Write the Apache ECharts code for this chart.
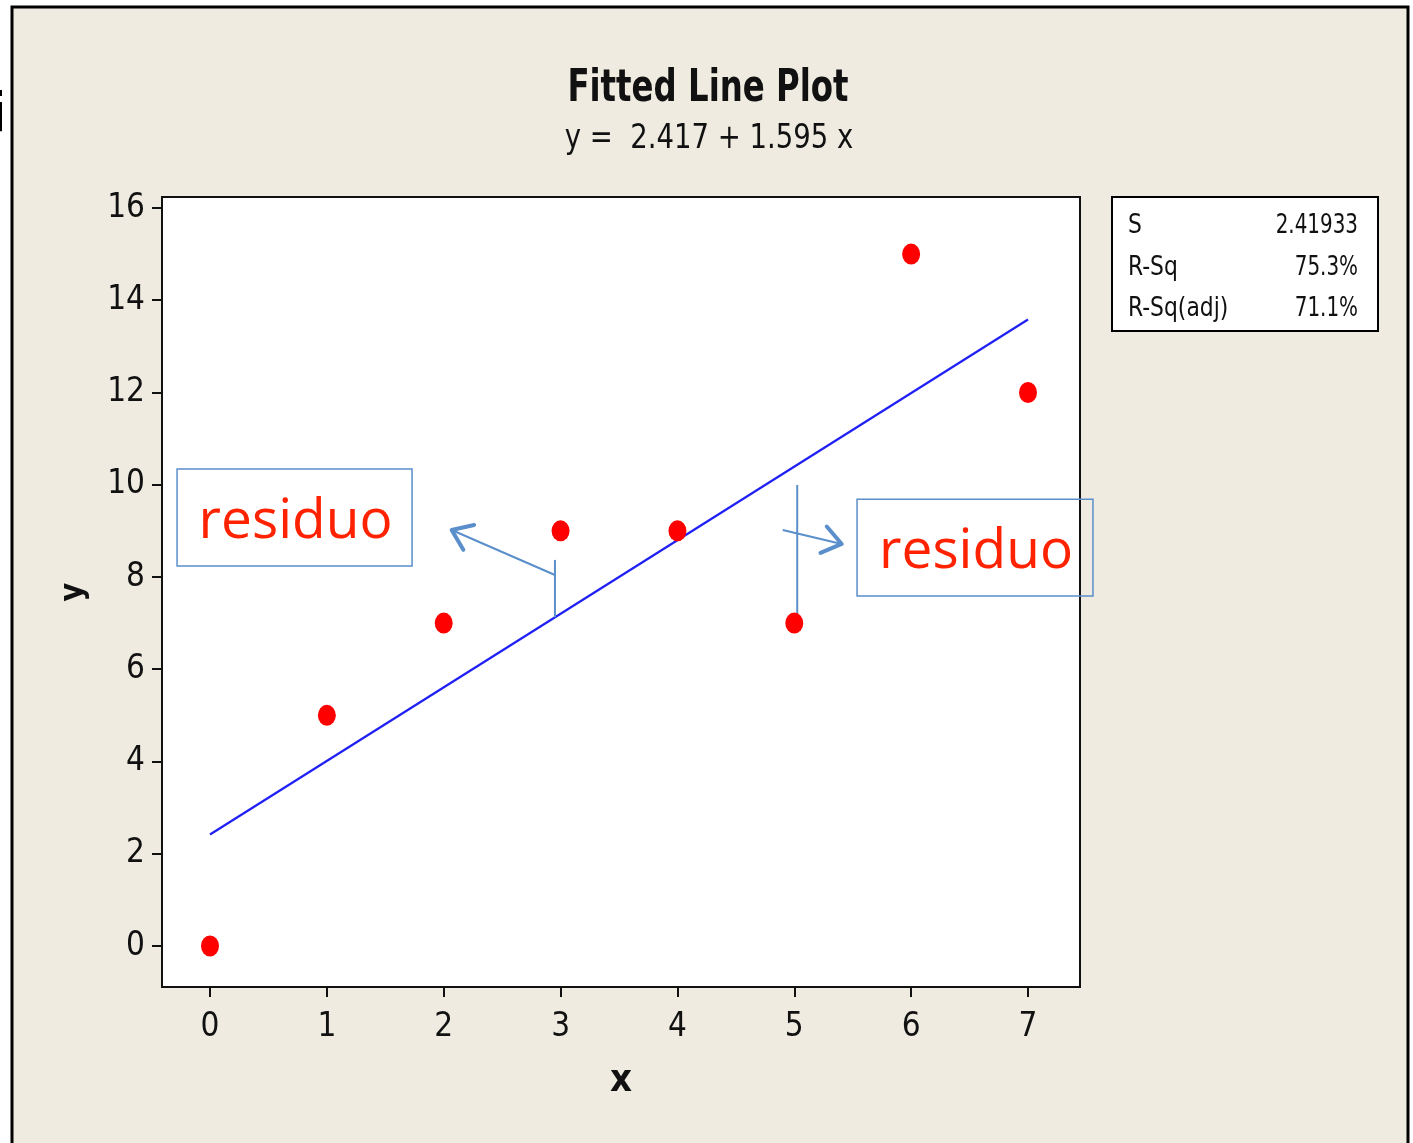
<!DOCTYPE html>
<html>
<head>
<meta charset="utf-8">
<script src="https://cdn.jsdelivr.net/npm/echarts@6/dist/echarts.min.js"></script>
<style>
html,body{margin:0;padding:0;background:#ffffff;}
#chart{width:1413px;height:1143px;}
</style>
</head>
<body>
<div id="chart"></div>
<script>
// ---- data ----
const xValues = [0, 1, 2, 3, 4, 5, 6, 7];
const yValues = [0, 5, 7, 9, 9, 7, 15, 12];
const fitX = [0, 7];
const fitY = [2.417, 13.582];
const xTickValues = [0, 1, 2, 3, 4, 5, 6, 7];
const yTickValues = [0, 2, 4, 6, 8, 10, 12, 14, 16];
const titleText = 'Fitted Line Plot';
const subtitleText = 'y =  2.417 + 1.595 x';
const statLabels = ['S', 'R-Sq', 'R-Sq(adj)'];
const statValues = ['2.41933', '75.3%', '71.1%'];
// annotation anchors in data units
const residualSegs = [[2.952, 7.126, 2.952, 8.37], [5.025, 7.003, 5.025, 9.995]];
const arrowSegs = [[2.952, 8.043, 2.068, 9.019], [4.901, 9.019, 5.406, 8.716]];
const noteBoxes = [[-0.282, 10.342, 1.729, 8.239], [5.537, 9.685, 7.556, 7.588]];
const noteText = 'residuo';

const FONT = '"DejaVu Sans Condensed", "DejaVu Sans", sans-serif';
const annColor = '#5A8FCB';

const chart = echarts.init(document.getElementById('chart'), null, {renderer: 'canvas'});

const scatterData = xValues.map((x, i) => [x, yValues[i]]);
const fitData = fitX.map((x, i) => [x, fitY[i]]);

const option = {
  animation: false,
  backgroundColor: '#ffffff',
  graphic: [
    {type: 'rect', z: -10, silent: true,
     shape: {x: 12, y: 7, width: 1396, height: 1150},
     style: {fill: '#EFEBE1', stroke: '#000', lineWidth: 3}},
    {type: 'text', z: 10, x: 7, y: 117,
     style: {text: 'i', font: '53px "DejaVu Sans", sans-serif', fill: '#000', align: 'right', verticalAlign: 'middle'}},
    {type: 'text', z: 10, x: 708, y: 89, scaleX: 0.8,
     style: {text: titleText, font: 'bold 45px ' + FONT, fill: '#111', align: 'center', verticalAlign: 'middle'}},
    {type: 'text', z: 10, x: 709, y: 139, scaleX: 0.9,
     style: {text: subtitleText, font: '34px ' + FONT, fill: '#111', align: 'center', verticalAlign: 'middle'}},
    {type: 'group', x: 1112, y: 197, children: [
      {type: 'rect', shape: {x: 0, y: 0, width: 266, height: 134},
       style: {fill: '#fff', stroke: '#000', lineWidth: 2}},
      ...statLabels.map((t, i) => ({type: 'text', x: 16, y: 29 + i * 41.5, scaleX: 0.9,
        style: {text: t, font: '27px ' + FONT, fill: '#111', verticalAlign: 'middle', align: 'left'}})),
      ...statValues.map((t, i) => ({type: 'text', x: 246, y: 29 + i * 41.5, scaleX: 0.82,
        style: {text: t, font: '27px ' + FONT, fill: '#111', verticalAlign: 'middle', align: 'right'}}))
    ]}
  ],
  grid: {
    left: 162, top: 197, width: 918, height: 790,
    show: true, backgroundColor: '#ffffff', borderColor: '#111', borderWidth: 2,
    containLabel: false
  },
  xAxis: {
    type: 'value', min: -0.4108, max: 7.445,
    name: 'x', nameLocation: 'middle', nameGap: 75,
    nameTextStyle: {fontFamily: FONT, fontWeight: 'bold', fontSize: 38, color: '#111'},
    axisLine: {show: true, onZero: false, lineStyle: {color: '#111', width: 2}},
    axisTick: {show: true, length: 10, lineStyle: {color: '#111', width: 2}, customValues: xTickValues},
    axisLabel: {margin: 24, fontFamily: FONT, fontSize: 33, color: '#111', customValues: xTickValues},
    splitLine: {show: false}
  },
  yAxis: {
    type: 'value', min: -0.889, max: 16.238,
    name: 'y', nameLocation: 'middle', nameGap: 72, nameRotate: 90,
    nameTextStyle: {fontFamily: FONT, fontWeight: 'bold', fontSize: 32, color: '#111'},
    axisLine: {show: true, onZero: false, lineStyle: {color: '#111', width: 2}},
    axisTick: {show: true, length: 10, lineStyle: {color: '#111', width: 2}, customValues: yTickValues},
    axisLabel: {margin: 17, fontFamily: FONT, fontSize: 33, color: '#111', customValues: yTickValues},
    splitLine: {show: false}
  },
  series: [
    {
      type: 'line', data: fitData, symbol: 'none', silent: true,
      lineStyle: {color: '#2020F5', width: 2.2}, z: 3
    },
    {
      type: 'scatter', data: scatterData, symbol: 'circle', symbolSize: [18, 21],
      itemStyle: {color: '#FF0000', opacity: 1}, z: 5
    },
    {
      type: 'custom', clip: false, z: 4, silent: true,
      data: residualSegs,
      renderItem: function (params, api) {
        const p0 = api.coord([api.value(0), api.value(1)]);
        const p1 = api.coord([api.value(2), api.value(3)]);
        return {type: 'line', shape: {x1: p0[0], y1: p0[1], x2: p1[0], y2: p1[1]},
          style: {stroke: annColor, lineWidth: 2}};
      }
    },
    {
      type: 'custom', clip: false, z: 4, silent: true,
      data: arrowSegs,
      renderItem: function (params, api) {
        const p0 = api.coord([api.value(0), api.value(1)]);
        const p1 = api.coord([api.value(2), api.value(3)]);
        const dx = p1[0] - p0[0], dy = p1[1] - p0[1];
        const len = Math.sqrt(dx * dx + dy * dy);
        const ux = dx / len, uy = dy / len;
        const L = 23, th = 36 * Math.PI / 180;
        const c = Math.cos(th), s = Math.sin(th);
        const a1 = [p1[0] - L * (ux * c - uy * s), p1[1] - L * (ux * s + uy * c)];
        const a2 = [p1[0] - L * (ux * c + uy * s), p1[1] - L * (-ux * s + uy * c)];
        return {type: 'group', children: [
          {type: 'line', shape: {x1: p0[0], y1: p0[1], x2: p1[0], y2: p1[1]},
           style: {stroke: annColor, lineWidth: 2}},
          {type: 'polyline', shape: {points: [a1, p1, a2]},
           style: {stroke: annColor, lineWidth: 4, fill: null, lineCap: 'round', lineJoin: 'round'}}
        ]};
      }
    },
    {
      type: 'custom', clip: false, z: 6, silent: true,
      data: noteBoxes,
      renderItem: function (params, api) {
        const p0 = api.coord([api.value(0), api.value(1)]);
        const p1 = api.coord([api.value(2), api.value(3)]);
        return {type: 'group', children: [
          {type: 'rect', shape: {x: p0[0], y: p0[1], width: p1[0] - p0[0], height: p1[1] - p0[1]},
           style: {fill: null, stroke: annColor, lineWidth: 1.5}},
          {type: 'text', style: {text: noteText, x: (p0[0] + p1[0]) / 2 + 1, y: (p0[1] + p1[1]) / 2 + 5,
            align: 'center', verticalAlign: 'middle',
            font: '55px "Open Sans", "Noto Sans", sans-serif', fill: '#FF2200'}}
        ]};
      }
    }
  ]
};
chart.setOption(option);
</script>
</body>
</html>
